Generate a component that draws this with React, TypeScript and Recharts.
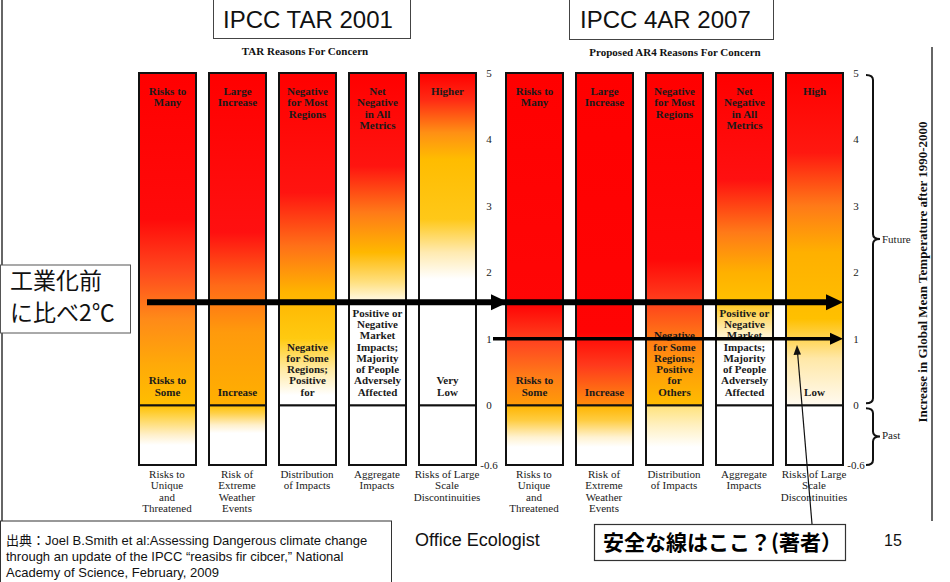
import React from "react";
import { BarChart, Bar, XAxis, YAxis, Cell, LabelList } from "recharts";

const SERIF = "'Liberation Serif', 'Times New Roman', serif";
const SANS = "'Liberation Sans', Arial, 'Noto Sans CJK JP', sans-serif";
const CJK = "'Noto Sans CJK JP', sans-serif";

// reasons for concern (same five in both panels)
const concerns = [
  "Risks to\nUnique\nand\nThreatened",
  "Risk of\nExtreme\nWeather\nEvents",
  "Distribution\nof Impacts",
  "Aggregate\nImpacts",
  "Risks of Large\nScale\nDiscontinuities",
];

const tarTop = ["Risks to\nMany", "Large\nIncrease", "Negative\nfor Most\nRegions", "Net\nNegative\nin All\nMetrics", "Higher"];
const tarBottom = [
  "Risks to\nSome",
  "Increase",
  "Negative\nfor Some\nRegions;\nPositive\nfor",
  "Positive or\nNegative\nMarket\nImpacts;\nMajority\nof People\nAdversely\nAffected",
  "Very\nLow",
];
const ar4Top = ["Risks to\nMany", "Large\nIncrease", "Negative\nfor Most\nRegions", "Net\nNegative\nin All\nMetrics", "High"];
const ar4Bottom = [
  "Risks to\nSome",
  "Increase",
  "Negative\nfor Some\nRegions;\nPositive\nfor\nOthers",
  "Positive or\nNegative\nMarket\nImpacts;\nMajority\nof People\nAdversely\nAffected",
  "Low",
];

// temperature range (deg C above 1990-2000)
const pastLow = -0.6;
const futureHigh = 5;
const tempTicks = [-0.6, 0, 1, 2, 3, 4, 5];
const PAST_SCALE = 1.5; // the past part is drawn taller in the original
const twoDegree = 1.55;
const safeLine = 1;

// ember colours: [temperature, colour]
type Stop = [number, string];
const white: Stop[] = [[0, "#ffffff"], [-0.6, "#ffffff"]];

const tarFuture: Stop[][] = [
  [[5, "#ff0000"], [2.8, "#ff0a0a"], [2.0, "#ff4a1e"], [1.3, "#ff8a18"], [0.6, "#ffaa08"], [0, "#ffbe00"]],
  [[5, "#ff0000"], [2.6, "#ff1010"], [1.8, "#ff6a18"], [1.1, "#ff9a0c"], [0, "#ffb000"]],
  [[5, "#ff0000"], [3.2, "#ff1410"], [2.4, "#ff7018"], [1.7, "#ffb400"], [1.0, "#ffca10"], [0.55, "#ffe9a0"], [0.15, "#ffffff"], [0, "#ffffff"]],
  [[5, "#ff0000"], [3.6, "#ff1410"], [2.9, "#ff7a18"], [2.3, "#ffb800"], [1.85, "#ffe080"], [1.5, "#ffffff"], [0, "#ffffff"]],
  [[5, "#ff0000"], [4.6, "#ff2a14"], [4.1, "#ff9014"], [3.7, "#ffbc00"], [2.8, "#ffc818"], [2.3, "#ffeab0"], [1.9, "#ffffff"], [0, "#ffffff"]],
];
const tarPast: Stop[][] = [
  [[0, "#ffc000"], [-0.12, "#ffd550"], [-0.3, "#fff0cc"], [-0.4, "#ffffff"], [-0.6, "#ffffff"]],
  [[0, "#ffc000"], [-0.08, "#ffd048"], [-0.2, "#fff0cc"], [-0.28, "#ffffff"], [-0.6, "#ffffff"]],
  white,
  white,
  white,
];
const ar4Future: Stop[][] = [
  [[5, "#ff0000"], [1.5, "#ff0606"], [0.9, "#ff4a20"], [0.45, "#ff7a18"], [0, "#ff9c08"]],
  [[5, "#ff0000"], [1.1, "#ff0404"], [0.6, "#ff3a1c"], [0.25, "#ff6a14"], [0, "#ff8c0a"]],
  [[5, "#ff0000"], [2.2, "#ff0808"], [1.6, "#ff3c1c"], [1.0, "#ff7a16"], [0.5, "#ffa008"], [0, "#ffbc00"]],
  [[5, "#ff0000"], [3.4, "#ff1010"], [2.6, "#ff7a18"], [2.0, "#ffb000"], [1.6, "#ffc000"], [1.2, "#ffe69a"], [0.9, "#ffffff"], [0, "#ffffff"]],
  [[5, "#ff0000"], [3.8, "#ff1810"], [3.0, "#ff7a18"], [2.3, "#ffb000"], [1.3, "#ffc000"], [0.7, "#ffe8a8"], [0, "#fffaf0"]],
];
const ar4Past: Stop[][] = [
  [[0, "#ffb400"], [-0.15, "#ffcc40"], [-0.32, "#fff2d0"], [-0.42, "#ffffff"], [-0.6, "#ffffff"]],
  [[0, "#ffb400"], [-0.15, "#ffcc40"], [-0.32, "#fff2d0"], [-0.42, "#ffffff"], [-0.6, "#ffffff"]],
  [[0, "#ffe27a"], [-0.2, "#fff0c0"], [-0.42, "#ffffff"], [-0.6, "#ffffff"]],
  white,
  white,
];

// layout
const PLOT_TOP = 73;
const PLOT_H = 392;
const CHART_H = 530;
const X_AXIS_H = 50;
const Y_AXIS_W = 30;

const scaled = (t: number) => (t < 0 ? t * PAST_SCALE : t);
const yDomain = [scaled(pastLow), futureHigh];
const tempY = (t: number) => PLOT_TOP + ((futureHigh - scaled(t)) / (yDomain[1] - yDomain[0])) * PLOT_H;

const CategoryTick = (props: any) => {
  const { x, y, payload } = props;
  const lines = String(payload.value).split("\n");
  return (
    <text x={x} y={y} textAnchor="middle" fontFamily={SERIF} fontSize={11} fill="#222">
      {lines.map((l, i) => (
        <tspan key={i} x={x} y={y + 5 + i * 11.3}>
          {l}
        </tspan>
      ))}
    </text>
  );
};

const TempTick = (props: any) => {
  const { x, y, payload } = props;
  const v = payload.value < 0 ? payload.value / PAST_SCALE : payload.value;
  return (
    <text x={x - 1} y={y} dy="0.35em" textAnchor="middle" fontFamily={SERIF} fontSize={11} fill="#222">
      {String(Math.round(v * 10) / 10)}
    </text>
  );
};

const TopLabel = (props: any) => {
  const { x, y, width, value } = props;
  const lines = String(value).split("\n");
  const cx = x + width / 2;
  return (
    <text textAnchor="middle" fontFamily={SERIF} fontWeight="bold" fontSize={11} fill="#1a1a1a">
      {lines.map((l, i) => (
        <tspan key={i} x={cx} y={y + 22 + i * 11.3}>
          {l}
        </tspan>
      ))}
    </text>
  );
};

const BottomLabel = (props: any) => {
  const { x, y, width, height, value } = props;
  const lines = String(value).split("\n");
  const cx = x + width / 2;
  const base = y + height - 9.5;
  return (
    <text textAnchor="middle" fontFamily={SERIF} fontWeight="bold" fontSize={11} fill="#1a1a1a">
      {lines.map((l, i) => (
        <tspan key={i} x={cx} y={base - (lines.length - 1 - i) * 11.3}>
          {l}
        </tspan>
      ))}
    </text>
  );
};

interface PanelProps {
  id: string;
  left: number;
  width: number;
  marginLeft: number;
  tops: string[];
  bottoms: string[];
  future: Stop[][];
  past: Stop[][];
}

const EmberPanel: React.FC<PanelProps> = ({ id, left, width, marginLeft, tops, bottoms, future, past }) => {
  const rows = concerns.map((name, i) => ({
    name,
    past: scaled(pastLow),
    future: futureHigh,
    top: tops[i],
    bottom: bottoms[i],
  }));
  const marginRight = width - marginLeft - 350 - Y_AXIS_W;
  return (
    <div style={{ position: "absolute", left, top: 0 }}>
      <BarChart
        width={width}
        height={CHART_H}
        data={rows}
        stackOffset="sign"
        barSize={57}
        margin={{ top: PLOT_TOP, left: marginLeft, right: marginRight, bottom: CHART_H - PLOT_TOP - PLOT_H - X_AXIS_H }}
      >
        <defs>
          {future.map((stops, i) => (
            <linearGradient key={"f" + i} id={`${id}f${i}`} x1="0" y1="0" x2="0" y2="1">
              {stops.map(([t, c], j) => (
                <stop key={j} offset={(futureHigh - t) / futureHigh} stopColor={c} />
              ))}
            </linearGradient>
          ))}
          {past.map((stops, i) => (
            <linearGradient key={"p" + i} id={`${id}p${i}`} x1="0" y1="0" x2="0" y2="1">
              {stops.map(([t, c], j) => (
                <stop key={j} offset={t / pastLow} stopColor={c} />
              ))}
            </linearGradient>
          ))}
        </defs>
        <XAxis dataKey="name" axisLine={false} tickLine={false} interval={0} height={X_AXIS_H} tick={<CategoryTick />} />
        <YAxis
          orientation="right"
          type="number"
          domain={yDomain}
          ticks={tempTicks.map(scaled)}
          axisLine={false}
          tickLine={false}
          width={Y_AXIS_W}
          tick={<TempTick />}
        />
        <Bar dataKey="past" stackId="e" isAnimationActive={false} stroke="#111" strokeWidth={2}>
          {rows.map((_, i) => (
            <Cell key={i} fill={`url(#${id}p${i})`} />
          ))}
        </Bar>
        <Bar dataKey="future" stackId="e" isAnimationActive={false} stroke="#111" strokeWidth={2}>
          {rows.map((_, i) => (
            <Cell key={i} fill={`url(#${id}f${i})`} />
          ))}
          <LabelList dataKey="top" content={TopLabel} />
          <LabelList dataKey="bottom" content={BottomLabel} />
        </Bar>
      </BarChart>
    </div>
  );
};

const Arrow = ({ x1, x2, y, w, head, half }: { x1: number; x2: number; y: number; w: number; head: number; half: number }) => (
  <g>
    <line x1={x1} y1={y} x2={x2 - head + 1} y2={y} stroke="#000" strokeWidth={w} />
    <polygon points={`${x2},${y} ${x2 - head},${y - half} ${x2 - head},${y + half}`} fill="#000" />
  </g>
);

const bracePath = (x: number, y1: number, y2: number, w: number) => {
  const m = (y1 + y2) / 2;
  const sx = x + w * 0.5;
  const r = 5;
  return `M${x},${y1} Q${sx},${y1} ${sx},${y1 + r} L${sx},${m - r} Q${sx},${m} ${x + w},${m} Q${sx},${m} ${sx},${m + r} L${sx},${y2 - r} Q${sx},${y2} ${x},${y2}`;
};

const App: React.FC = () => {
  const y2 = tempY(twoDegree);
  const y1 = tempY(safeLine);
  return (
    <div style={{ position: "absolute", left: 0, top: 0, width: 950, height: 582, background: "#fff", overflow: "hidden" }}>
      <EmberPanel id="tar" left={0} width={520} marginLeft={132} tops={tarTop} bottoms={tarBottom} future={tarFuture} past={tarPast} />
      <EmberPanel id="ar4" left={470} width={420} marginLeft={29} tops={ar4Top} bottoms={ar4Bottom} future={ar4Future} past={ar4Past} />
      <svg width={950} height={582} style={{ position: "absolute", left: 0, top: 0, pointerEvents: "none" }}>
        {/* frame lines */}
        <line x1={2} y1={0} x2={2} y2={521} stroke="#333" strokeWidth={1.5} />
        <line x1={932} y1={47} x2={932} y2={521} stroke="#333" strokeWidth={1.5} />

        {/* headers */}
        <rect x={213.5} y={-1} width={197} height={39.5} fill="#fff" stroke="#444" />
        <text x={223} y={28} fontFamily={SANS} fontSize={24} fill="#111">IPCC TAR 2001</text>
        <rect x={569.5} y={-1} width={204} height={40.5} fill="#fff" stroke="#444" />
        <text x={580} y={28} fontFamily={SANS} fontSize={24} fill="#111">IPCC 4AR 2007</text>
        <text x={305} y={55} textAnchor="middle" fontFamily={SERIF} fontWeight="bold" fontSize={11} fill="#111">
          TAR Reasons For Concern
        </text>
        <text x={675} y={56} textAnchor="middle" fontFamily={SERIF} fontWeight="bold" fontSize={11} fill="#111">
          Proposed AR4 Reasons For Concern
        </text>

        {/* braces */}
        <path d={bracePath(866, tempY(futureHigh) + 2, tempY(0) - 2, 14)} fill="none" stroke="#111" strokeWidth={2} />
        <path d={bracePath(866, tempY(0) + 3, tempY(pastLow), 14)} fill="none" stroke="#111" strokeWidth={2} />
        <text x={882} y={(tempY(futureHigh) + tempY(0)) / 2 + 4} fontFamily={SERIF} fontSize={11} fill="#222">Future</text>
        <text x={882} y={(tempY(0) + tempY(pastLow)) / 2 + 4} fontFamily={SERIF} fontSize={11} fill="#222">Past</text>
        <text
          x={922}
          y={272}
          transform="rotate(-90 922 272)"
          textAnchor="middle"
          dy="0.35em"
          fontFamily={SERIF}
          fontWeight="bold"
          fontSize={13}
          fill="#111"
        >
          Increase in Global Mean Temperature after 1990-2000
        </text>

        {/* 2 degree and safe-line arrows */}
        <Arrow x1={147} x2={508} y={y2} w={6} head={17} half={8} />
        <Arrow x1={500} x2={843} y={y2} w={6} head={17} half={8} />
        <Arrow x1={493} x2={843} y={y1} w={3.5} head={13} half={6} />

        {/* pre-industrial label */}
        <rect x={0.5} y={265} width={130} height={68} fill="#fff" stroke="#555" />
        <text x={10} y={289} fontFamily={CJK} fontSize={23} fill="#111">工業化前</text>
        <text x={10} y={321} fontFamily={CJK} fontSize={23} fill="#111">に比べ2℃</text>

        {/* pointer to safe line */}
        <line x1={812} y1={524} x2={797.5} y2={352} stroke="#111" strokeWidth={1.2} />
        <polygon points={`797,345 793.5,355 801,354.5`} fill="#111" />

        {/* footer */}
        <rect x={0.5} y={521} width={391} height={66} fill="#fff" stroke="#333" />
        <text fontFamily={SANS} fontSize={13} fill="#111">
          <tspan x={6} y={545}>出典：Joel B.Smith et al:Assessing Dangerous climate change</tspan>
          <tspan x={6} y={561}>through an update of the IPCC “reasibs fir cibcer,” National</tspan>
          <tspan x={6} y={577}>Academy of Science, February, 2009</tspan>
        </text>
        <text x={415} y={546} fontFamily={SANS} fontSize={18} fill="#111">Office Ecologist</text>
        <rect x={594.5} y={524.5} width={251} height={36} fill="#fff" stroke="#333" strokeWidth={1.2} />
        <text x={603} y={550} fontFamily={CJK} fontWeight="bold" fontSize={21} fill="#000">安全な線はここ？(著者）</text>
        <text x={884} y={546} fontFamily={SANS} fontSize={16} fill="#111">15</text>
      </svg>
    </div>
  );
};

export default App;
